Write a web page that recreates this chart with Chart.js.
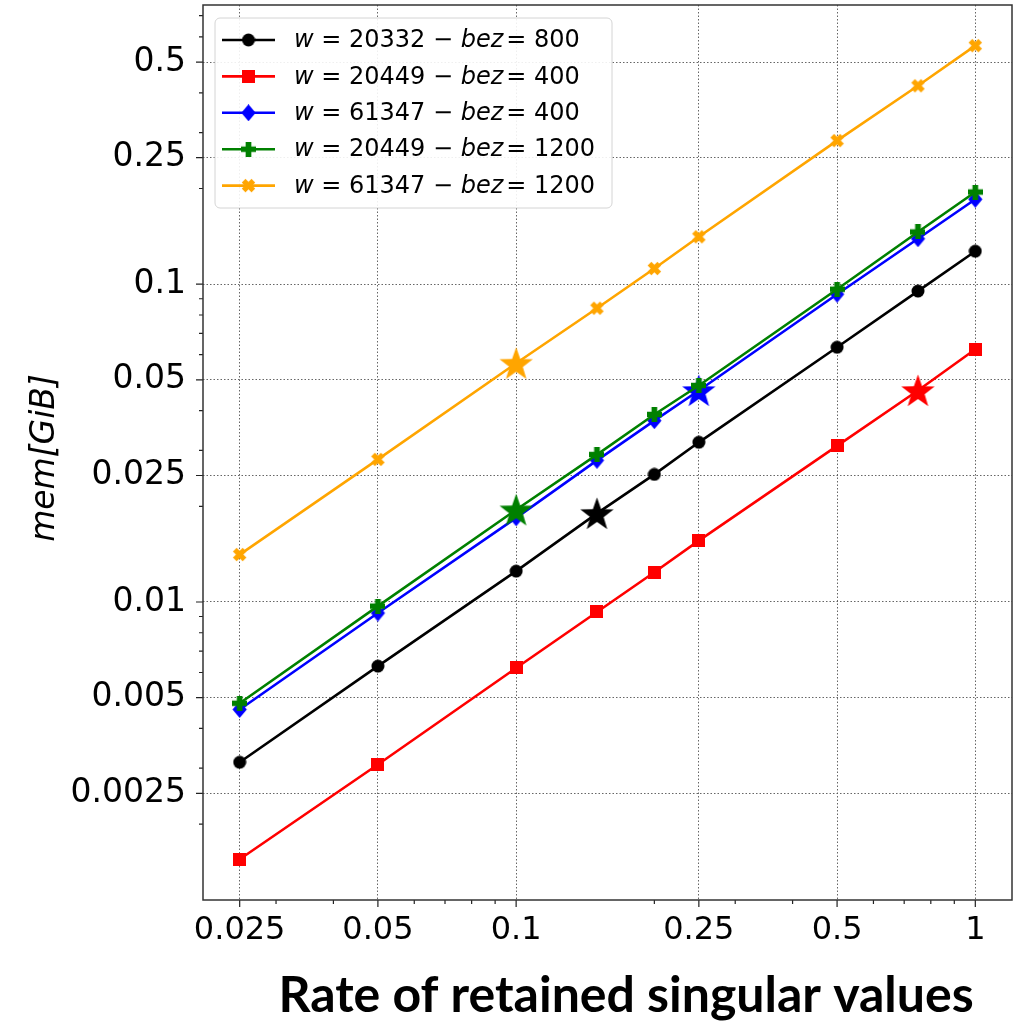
<!DOCTYPE html>
<html>
<head>
<meta charset="utf-8">
<script src="https://cdn.jsdelivr.net/npm/chart.js@4.4.1/dist/chart.umd.min.js"></script>
<style>
html, body { margin: 0; padding: 0; background: #fff; }
#mem-chart { display: block; }
</style>
</head>
<body>
<canvas id="mem-chart" width="1014" height="1021"></canvas>
<script>
// memory vs rate of retained singular values (log-log)

const rates = [0.025, 0.05, 0.1, 0.15, 0.2, 0.25, 0.5, 0.75, 1];

const memBlack  = [0.00313, 0.00628, 0.0125, 0.0190, 0.0252, 0.0318, 0.0633, 0.0951, 0.127];
const memRed    = [0.00155, 0.00308, 0.0062, 0.0093, 0.0124, 0.0156, 0.0310, 0.0463, 0.0624];
const memBlue   = [0.00459, 0.00923, 0.0184, 0.0279, 0.0372, 0.0463, 0.0930, 0.139, 0.185];
const memGreen  = [0.0048, 0.0097, 0.0195, 0.0291, 0.0389, 0.048, 0.0964, 0.146, 0.195];
const memOrange = [0.0141, 0.0281, 0.0564, 0.084, 0.112, 0.141, 0.283, 0.421, 0.563];

const wValues   = [20332, 20449, 61347, 20449, 61347];
const bezValues = [800, 400, 400, 1200, 1200];
const starIndex = [3, 7, 5, 2, 2];

const xTickLabels = [0.025, 0.05, 0.1, 0.25, 0.5, 1];
const yTickLabels = [0.0025, 0.005, 0.01, 0.025, 0.05, 0.1, 0.25, 0.5];
const xMinor = [0.03, 0.04, 0.06, 0.07, 0.08, 0.09, 0.2, 0.3, 0.4, 0.6, 0.7, 0.8, 0.9];
const yMinor = [0.002, 0.003, 0.004, 0.006, 0.007, 0.008, 0.009,
                0.02, 0.03, 0.04, 0.06, 0.07, 0.08, 0.09,
                0.2, 0.3, 0.4, 0.6, 0.7];

const colors = ['#000000', '#ff0000', '#0000ff', '#008000', '#ffa500'];
const shapes = ['circle', 'square', 'diamond', 'plus', 'xcross'];
const sizes  = [14, 13, 17, 15, 15];

function makeMarker(shape, color, size) {
    let c = document.createElement('canvas');
    c.width = size; c.height = size;
    let g = c.getContext('2d');
    let m = size / 2;
    g.fillStyle = color;
    g.beginPath();
    if (shape == 'circle') {
        g.arc(m, m, m - 0.5, 0, Math.PI * 2);
    } else if (shape == 'square') {
        g.rect(0, 0, size, size);
    } else if (shape == 'diamond') {
        g.moveTo(m, 0); g.lineTo(size * 0.92, m); g.lineTo(m, size); g.lineTo(size * 0.08, m);
    } else if (shape == 'plus' || shape == 'xcross') {
        let t = size * 0.19;
        let pts = [[-t,-m],[t,-m],[t,-t],[m,-t],[m,t],[t,t],[t,m],[-t,m],[-t,t],[-m,t],[-m,-t],[-t,-t]];
        let a = shape == 'xcross' ? Math.PI / 4 : 0;
        let k = shape == 'xcross' ? 0.92 : 1;
        pts.forEach((p, i) => {
            let x = m + k * (p[0] * Math.cos(a) - p[1] * Math.sin(a));
            let y = m + k * (p[0] * Math.sin(a) + p[1] * Math.cos(a));
            if (i == 0) g.moveTo(x, y); else g.lineTo(x, y);
        });
    } else if (shape == 'star') {
        for (let i = 0; i < 10; i++) {
            let r = i % 2 == 0 ? m : m * 0.4;
            let a = -Math.PI / 2 + i * Math.PI / 5;
            let x = m + r * Math.cos(a), y = m + 1.5 + r * Math.sin(a);
            if (i == 0) g.moveTo(x, y); else g.lineTo(x, y);
        }
    }
    g.closePath();
    g.fill();
    return c;
}

const markers = colors.map((c, i) => makeMarker(shapes[i], c, sizes[i]));
const stars = colors.map(c => makeMarker('star', c, 35));

const series = [memBlack, memRed, memBlue, memGreen, memOrange];

let Data = {
    datasets: series.map((vals, i) => ({
        label: 'w = ' + wValues[i] + ' \u2212 bez = ' + bezValues[i],
        data: vals.map((v, j) => ({x: rates[j], y: v})),
        borderColor: colors[i],
        backgroundColor: colors[i],
        borderWidth: 2.6,
        pointStyle: ctx => ctx.dataIndex === starIndex[i] ? stars[i] : markers[i],
        pointRadius: 7,
        tension: 0,
        order: 5 - i
    }))
};

function near(list, v) {
    return list.some(t => Math.abs(t - v) / t < 1e-6);
}

const gridColor = list => ctx => (ctx.tick && near(list, ctx.tick.value)) ? '#555' : 'rgba(0,0,0,0)';

// frame, tick marks, legend and axis titles
const decor = {
    id: 'decor',
    afterDatasetsDraw(chart) {
        let ctx = chart.ctx;
        let area = chart.chartArea;
        let xs = chart.scales.x, ys = chart.scales.y;
        ctx.save();

        // legend
        let bx = 215, by = 18, bw = 397, bh = 190;
        ctx.beginPath();
        ctx.roundRect(bx, by, bw, bh, 5);
        ctx.fillStyle = 'rgba(255,255,255,0.9)';
        ctx.fill();
        ctx.strokeStyle = '#d4d4d4';
        ctx.lineWidth = 1;
        ctx.stroke();
        ctx.textBaseline = 'middle';
        ctx.textAlign = 'left';
        chart.data.datasets.forEach((ds, i) => {
            let y = 40 + i * 36.4;
            ctx.strokeStyle = colors[i];
            ctx.lineWidth = 2.6;
            ctx.beginPath();
            ctx.moveTo(222, y); ctx.lineTo(275, y);
            ctx.stroke();
            ctx.drawImage(markers[i], 248.5 - markers[i].width / 2, y - markers[i].height / 2);
            let parts = [['w', true], [' = ' + wValues[i] + ' \u2212 ', false], ['bez', true], ['= ' + bezValues[i], false]];
            let x = 294;
            ctx.fillStyle = '#000';
            parts.forEach(p => {
                ctx.font = (p[1] ? 'italic ' : '') + '24px "DejaVu Sans"';
                ctx.fillText(p[0], x, y + 1);
                x += ctx.measureText(p[0]).width + (p[0] == 'bez' ? 3 : 0);
            });
        });

        // tick marks
        ctx.strokeStyle = '#222';
        ctx.lineWidth = 1.2;
        ctx.beginPath();
        xs.ticks.forEach(t => {
            let px = xs.getPixelForValue(t.value);
            let len = near(xTickLabels, t.value) ? 7 : 4;
            ctx.moveTo(px, area.bottom); ctx.lineTo(px, area.bottom + len);
        });
        ys.ticks.forEach(t => {
            let py = ys.getPixelForValue(t.value);
            let len = near(yTickLabels, t.value) ? 7 : 4;
            ctx.moveTo(area.left, py); ctx.lineTo(area.left - len, py);
        });
        ctx.stroke();

        // frame
        ctx.lineWidth = 1.5;
        ctx.strokeStyle = '#333';
        ctx.strokeRect(area.left, area.top, area.right - area.left, area.bottom - area.top);

        // axis titles
        ctx.fillStyle = '#000';
        ctx.font = 'bold 50px Lato';
        ctx.textAlign = 'center';
        ctx.textBaseline = 'alphabetic';
        ctx.fillText('Rate of retained singular values', 626, 1012);

        ctx.translate(45, 458);
        ctx.rotate(-Math.PI / 2);
        ctx.font = 'italic 33px "DejaVu Sans"';
        ctx.textBaseline = 'middle';
        ctx.fillText('mem[GiB]', 0, 0);
        ctx.restore();
    }
};

let Options = {
    responsive: false,
    maintainAspectRatio: false,
    animation: false,
    events: [],
    layout: { autoPadding: false, padding: { top: 5, right: 2, bottom: 0, left: 0 } },
    plugins: {
        legend: { display: false },
        tooltip: { enabled: false }
    },
    scales: {
        x: {
            type: 'logarithmic',
            min: 0.0208,
            max: 1.202,
            afterBuildTicks: s => { s.ticks = xTickLabels.concat(xMinor).sort((a, b) => a - b).map(v => ({value: v})); },
            afterFit: s => { s.height = 121; s.paddingLeft = 0; s.paddingRight = 0; },
            ticks: {
                autoSkip: false,
                maxRotation: 0,
                padding: 4,
                color: '#000',
                font: { family: 'DejaVu Sans', size: 32 },
                callback: v => near(xTickLabels, v) ? String(v) : ''
            },
            grid: {
                color: gridColor(xTickLabels),
                lineWidth: 0.9,
                tickLength: 7,
                tickColor: 'rgba(0,0,0,0)'
            },
            border: { display: false, dash: [1.5, 2] }
        },
        y: {
            type: 'logarithmic',
            min: 0.001154,
            max: 0.756,
            afterBuildTicks: s => { s.ticks = yTickLabels.concat(yMinor).sort((a, b) => a - b).map(v => ({value: v})); },
            afterFit: s => { s.width = 203; s.paddingTop = 0; s.paddingBottom = 0; },
            ticks: {
                autoSkip: false,
                padding: 10,
                color: '#000',
                font: { family: 'DejaVu Sans', size: 33 },
                callback: v => near(yTickLabels, v) ? String(v) : ''
            },
            grid: {
                color: gridColor(yTickLabels),
                lineWidth: 0.9,
                tickLength: 7,
                tickColor: 'rgba(0,0,0,0)'
            },
            border: { display: false, dash: [1.5, 2] }
        }
    }
};

let memChart = new Chart(document.getElementById('mem-chart'), {
    type: 'line',
    data: Data,
    options: Options,
    plugins: [decor]
});
</script>
</body>
</html>
